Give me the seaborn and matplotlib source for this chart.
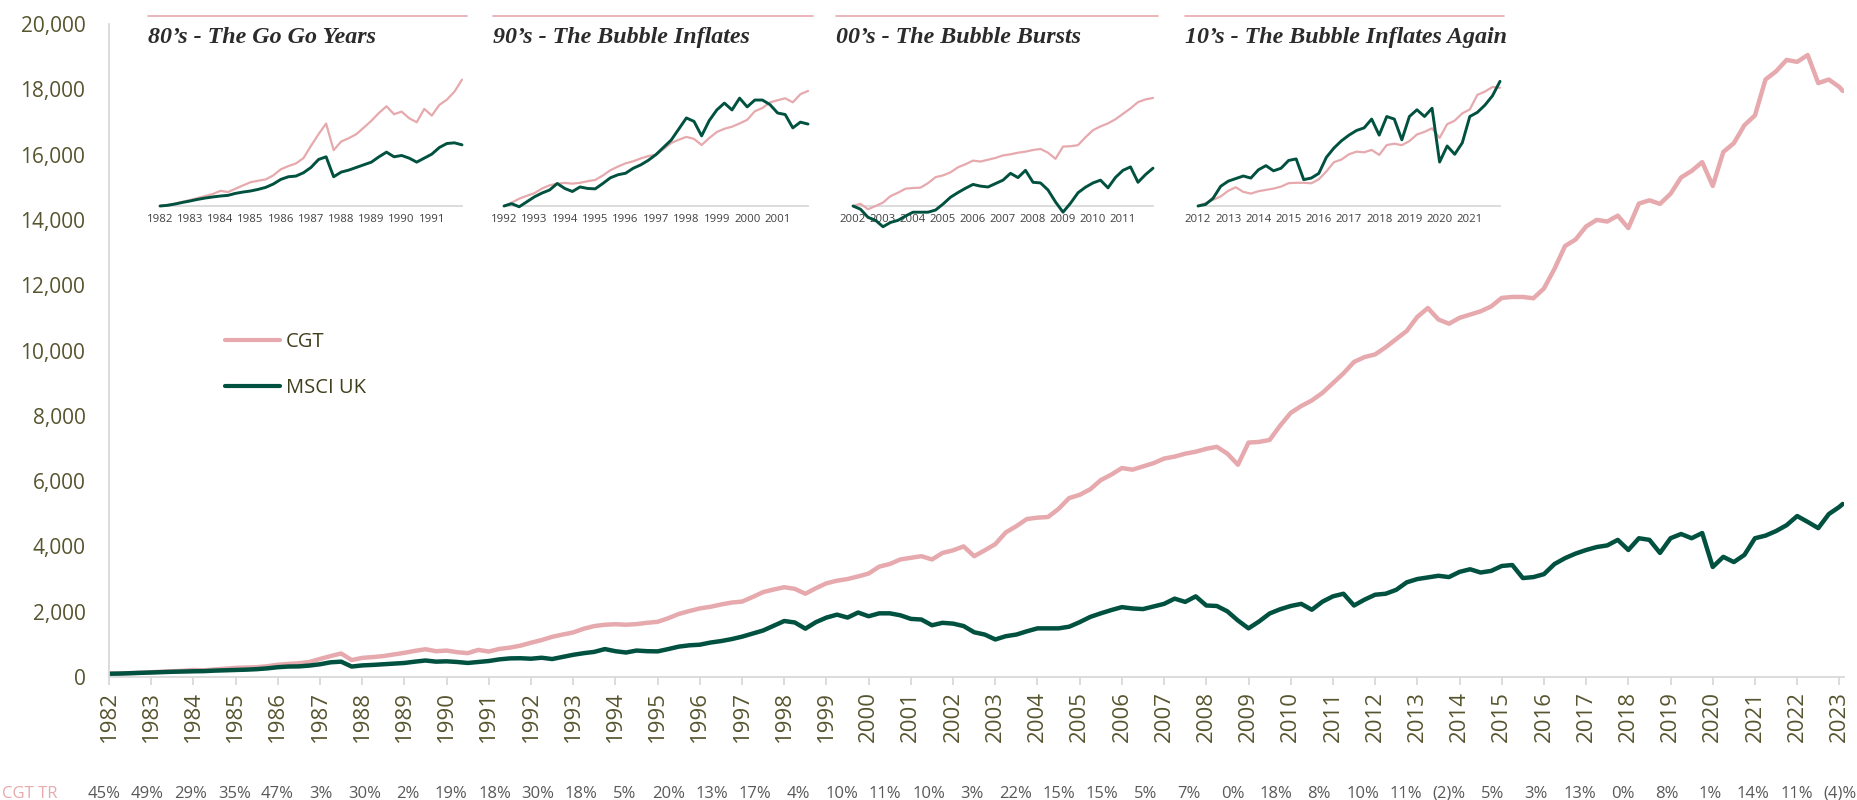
import numpy as np
import pandas as pd
import matplotlib
matplotlib.use("Agg")
import matplotlib.pyplot as plt
from matplotlib.lines import Line2D
import seaborn as sns

# ---------------- data ----------------
quarters_per_year = 4
start_year = 1982
cgt = [
    100, 108, 118, 132,      # 1982
    145, 160, 175, 190,      # 1983
    214, 205, 230, 255,      # 1984
    279, 290, 300, 330,      # 1985
    376, 400, 420, 460,      # 1986
    553, 640, 720, 520,      # 1987
    585, 610, 640, 690,      # 1988
    741, 800, 850, 790,      # 1989
    810, 760, 730, 830,      # 1990
    780, 860, 900, 960,      # 1991
    1050, 1130, 1230, 1300,  # 1992
    1365, 1480, 1560, 1600,  # 1993
    1617, 1600, 1620, 1660,  # 1994
    1690, 1800, 1930, 2020,  # 1995
    2100, 2150, 2220, 2280,  # 1996
    2310, 2450, 2600, 2680,  # 1997
    2750, 2700, 2550, 2720,  # 1998
    2870, 2950, 3000, 3080,  # 1999
    3170, 3380, 3460, 3600,  # 2000
    3650, 3700, 3600, 3800,  # 2001
    3880, 4000, 3700, 3880,  # 2002
    4070, 4430, 4620, 4840,  # 2003
    4880, 4900, 5150, 5480,  # 2004
    5580, 5750, 6030, 6200,  # 2005
    6400, 6350, 6450, 6550,  # 2006
    6690, 6750, 6840, 6900,  # 2007
    6990, 7050, 6840, 6500,  # 2008
    7180, 7200, 7260, 7700,  # 2009
    8090, 8300, 8470, 8700,  # 2010
    9000, 9300, 9650, 9800,  # 2011
    9880, 10100, 10350, 10600,   # 2012
    11030, 11300, 10950, 10820,  # 2013
    11000, 11100, 11200, 11350,  # 2014
    11610, 11640, 11640, 11600,  # 2015
    11900, 12500, 13200, 13400,  # 2016
    13800, 14000, 13950, 14130,  # 2017
    13750, 14500, 14600, 14490,  # 2018
    14800, 15300, 15500, 15770,  # 2019
    15040, 16080, 16350, 16900,  # 2020
    17200, 18300, 18550, 18900,  # 2021
    18840, 19050, 18190, 18300,  # 2022
    18070, 17950,                # 2023
]
msci = [
    100, 105, 115, 127,
    138, 150, 160, 168,
    175, 180, 195, 205,
    213, 225, 240, 265,
    300, 320, 325, 350,
    390, 450, 470, 320,
    355, 370, 390, 410,
    430, 470, 505, 470,
    480, 460, 430, 460,
    490, 540, 570, 575,
    560, 590, 550, 615,
    680, 730, 770, 855,
    790, 750, 810, 790,
    785, 855, 930, 970,
    990, 1055, 1100, 1160,
    1235, 1330, 1425, 1570,
    1715, 1670, 1480, 1680,
    1820, 1910, 1820, 1975,
    1860, 1950, 1950, 1890,
    1780, 1760, 1585, 1660,
    1635, 1560, 1370, 1300,
    1150, 1250, 1300, 1400,
    1490, 1490, 1490, 1540,
    1680, 1840, 1950, 2050,
    2140, 2100, 2080, 2160,
    2240, 2400, 2300, 2470,
    2190, 2175, 2010, 1730,
    1490, 1700, 1945, 2075,
    2175, 2240, 2060, 2305,
    2470, 2550, 2190, 2370,
    2520, 2550, 2670, 2900,
    3000, 3050, 3100, 3060,
    3220, 3300, 3200, 3250,
    3400, 3430, 3030, 3060,
    3150, 3460, 3640, 3780,
    3890, 3980, 4030, 4200,
    3890, 4250, 4200, 3800,
    4250, 4380, 4250, 4410,
    3370, 3680, 3520, 3740,
    4250, 4330, 4470, 4650,
    4930, 4750, 4560, 4990,
    5210, 5300,
]
last_date_year = 2023.08
year_ticks = list(range(1982, 2024))
cgt_tr_labels = ["45%", "49%", "29%", "35%", "47%", "3%", "30%", "2%", "19%", "18%",
                 "30%", "18%", "5%", "20%", "13%", "17%", "4%", "10%", "11%", "10%",
                 "3%", "22%", "15%", "15%", "5%", "7%", "0%", "18%", "8%", "10%",
                 "11%", "(2)%", "5%", "3%", "13%", "0%", "8%", "1%", "14%", "11%", "(4)%"]
inset_starts = [1982, 1992, 2002, 2012]
inset_titles = ["80\u2019s - The Go Go Years", "90\u2019s - The Bubble Inflates",
                "00\u2019s - The Bubble Bursts", "10\u2019s - The Bubble Inflates Again"]
series_names = ["CGT", "MSCI UK"]

# time axis (decimal years)
n = len(cgt)
t = [start_year + i / quarters_per_year for i in range(n - 1)] + [last_date_year]
df = pd.concat([
    pd.DataFrame({"t": t, "value": cgt, "series": "CGT"}),
    pd.DataFrame({"t": t, "value": msci, "series": "MSCI UK"}),
], ignore_index=True)

# ---------------- style ----------------
W, H = 1857, 800
PINK = "#e6a9ad"
GREEN = "#00513f"
OLIVE = "#57552f"
AXGREY = "#d9d9d9"

sns.set_theme(style="white")
plt.rcParams["font.family"] = ["Open Sans", "DejaVu Sans"]

fig = plt.figure(figsize=(W / 100, H / 100), dpi=100)

# ---------------- main chart ----------------
ax = fig.add_axes([109 / W, (H - 677) / H, (1844 - 109) / W, (677 - 24) / H])
sns.lineplot(data=df[df.series == "CGT"], x="t", y="value", color=PINK, lw=3.2, ax=ax,
             legend=False)
sns.lineplot(data=df[df.series == "MSCI UK"], x="t", y="value", color=GREEN, lw=3.2, ax=ax,
             legend=False)
ax.set_xlim(1982, 2023.11)
ax.set_ylim(0, 20000)
ax.set_xlabel("")
ax.set_ylabel("")
ax.set_yticks(range(0, 20001, 2000))
ax.set_yticklabels([f"{v:,}" for v in range(0, 20001, 2000)])
ax.set_xticks(year_ticks)
ax.set_xticklabels([str(y) for y in year_ticks], rotation=90)
ax.tick_params(axis="y", length=0, pad=17, labelsize=15, labelcolor=OLIVE)
ax.tick_params(axis="x", length=6, width=1.3, color=AXGREY, pad=4, labelsize=16,
               labelcolor=OLIVE, direction="out", bottom=True)
for s in ["top", "right"]:
    ax.spines[s].set_visible(False)
for s in ["left", "bottom"]:
    ax.spines[s].set_color(AXGREY)
    ax.spines[s].set_linewidth(1.3)
ax.patch.set_alpha(0)

handles = [Line2D([0], [0], color=PINK, lw=3.0, solid_capstyle="round"),
           Line2D([0], [0], color=GREEN, lw=3.0, solid_capstyle="round")]
leg = fig.legend(handles, series_names, loc="upper left",
                 bbox_to_anchor=(207 / W, 1 - 314 / H), frameon=False,
                 fontsize=14.5, handlelength=2.7, handletextpad=0.3, labelspacing=1.3)
for txt in leg.get_texts():
    txt.set_color("#3f3f1c")

# ---------------- insets ----------------
inset_x0 = [160, 504, 853, 1198]
inset_w = [302, 304, 300, 302]
rule_x = [(148, 467), (493, 813), (836, 1158), (1185, 1504)]
inset_ytop = [11.98, 4.42, 3.09, 2.12]
for k, start in enumerate(inset_starts):
    axi = fig.add_axes([inset_x0[k] / W, (H - 206) / H, inset_w[k] / W, 146 / H])
    sub = df[(df.t >= start - 1e-6) & (df.t <= start + 10 + 1e-6)].copy()
    base = sub[sub.t == start].set_index("series")["value"]
    sub["rel"] = sub["value"] / sub["series"].map(base)
    sns.lineplot(data=sub[sub.series == "CGT"], x="t", y="rel", color=PINK, lw=1.6,
                 ax=axi, legend=False)
    sns.lineplot(data=sub[sub.series == "MSCI UK"], x="t", y="rel", color=GREEN, lw=2.1,
                 ax=axi, legend=False)
    for ln in axi.lines:
        ln.set_clip_on(False)
    axi.set_xlim(start, start + 10)
    axi.set_ylim(1, inset_ytop[k])
    axi.set_xlabel("")
    axi.set_ylabel("")
    axi.set_yticks([])
    yrs = list(range(start, start + 10))
    axi.set_xticks(yrs)
    axi.set_xticklabels([str(y) for y in yrs])
    axi.tick_params(axis="x", length=0, pad=6, labelsize=8.2, labelcolor="#404040")
    for s in ["top", "right", "left"]:
        axi.spines[s].set_visible(False)
    axi.spines["bottom"].set_color(AXGREY)
    axi.spines["bottom"].set_linewidth(1.3)
    axi.spines["bottom"].set_zorder(0)
    axi.patch.set_alpha(0)
    # rule + title
    x0, x1 = rule_x[k]
    fig.add_artist(Line2D([x0 / W, x1 / W], [1 - 15.5 / H, 1 - 15.5 / H], color=PINK,
                          lw=1.2, transform=fig.transFigure))
    fig.text(x0 / W, 1 - 43 / H, inset_titles[k], family="Liberation Serif",
             style="italic", weight="bold", fontsize=17.3, color="#2b2b2b",
             ha="left", va="baseline")

# ---------------- CGT TR row ----------------
fig.text(2 / W, 1 - 794 / H, "CGT TR", color=PINK, fontsize=12, ha="left", va="center")
for i, lab in enumerate(cgt_tr_labels):
    fig.text((104 + i * 43.4) / W, 1 - 794 / H, lab, color="#595959", fontsize=12,
             ha="center", va="center")

fig.savefig("out.png", dpi=100)
